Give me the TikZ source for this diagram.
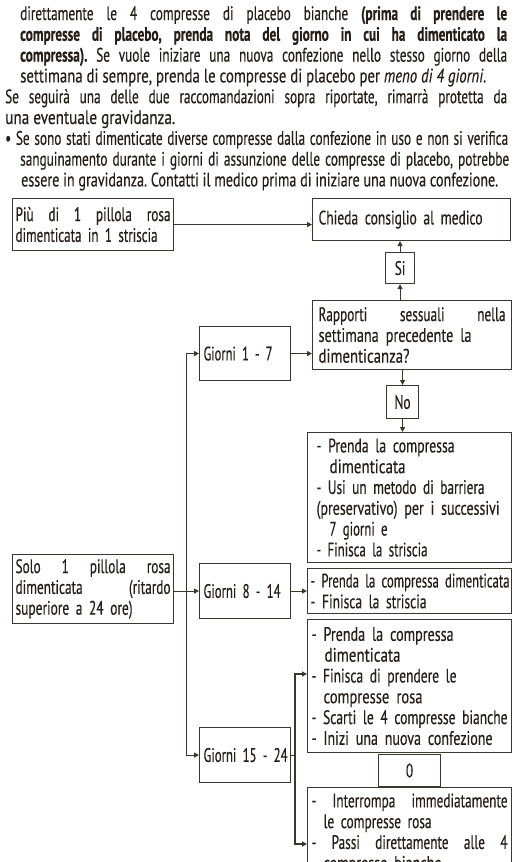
\documentclass[tikz,border=0pt]{standalone}
\usepackage{fontspec}
\setmainfont{PT Sans}[FakeStretch=0.68, FakeBold=0.3]
\usepackage{graphicx}
\usepackage{tikz}
\usetikzlibrary{arrows.meta, positioning, calc}

\definecolor{ink}{HTML}{261E17}
\definecolor{edge}{HTML}{3E352D}

\frenchspacing
\newcommand{\fs}{\fontsize{19.5}{20.8}\selectfont}
\newsavebox{\linebox}
\newcommand{\fitline}[2]{\sbox{\linebox}{#2}\ifdim\wd\linebox>#1\relax\resizebox{#1}{\height}{\usebox{\linebox}}\else\makebox[#1][s]{\spaceskip=0pt\xspaceskip=0pt #2}\fi}
\newcommand{\fitto}[2]{\resizebox{#1}{\height}{#2}}

\begin{document}
\begin{tikzpicture}[x=1pt, y=-1pt, every node/.style={font=\fs, text=ink}]

\tikzstyle{txt}=[anchor=base west, inner sep=0pt]
\tikzstyle{box}=[draw=edge, line width=1.1pt, anchor=north west, inner xsep=3pt, inner ysep=0pt, align=left]
\tikzstyle{arr}=[draw=edge, line width=1.1pt, -{Triangle[length=5pt, width=5pt]}]

\clip (0,0) rectangle (512,862);
\fill[white] (0,0) rectangle (512,862);

% text above the chart
\node (l1) [txt] at (20, 20) {\fitline{487pt}{direttamente le 4 compresse di placebo bianche \textbf{(prima di prendere le}}};
\node (l2) [txt] at (20, 40.8) {\fitline{487pt}{\textbf{compresse di placebo, prenda nota del giorno in cui ha dimenticato la}}};
\node (l3) [txt] at (20, 61.6) {\fitline{487pt}{\textbf{compressa).} Se vuole iniziare una nuova confezione nello stesso giorno della}};
\node (l4) [txt] at (20, 82.4) {\fitto{466pt}{settimana di sempre, prenda le compresse di placebo per \textit{meno di 4 giorni}.}};
\node (l5) [txt] at (5, 103.2) {\fitline{502pt}{Se seguirà una delle due raccomandazioni sopra riportate, rimarrà protetta da}};
\node (l6) [txt] at (5, 124) {\fitto{170pt}{una eventuale gravidanza.}};
\node (l7) [txt] at (5, 144.8) {\fitline{503pt}{• Se sono stati dimenticate diverse compresse dalla confezione in uso e non si verifica}};
\node (l8) [txt] at (20, 165.6) {\fitline{489pt}{sanguinamento durante i giorni di assunzione delle compresse di placebo, potrebbe}};
\node (l9) [txt] at (21, 186.4) {\fitto{477pt}{essere in gravidanza. Contatti il medico prima di iniziare una nuova confezione.}};

% chart
\node (more) [box, minimum width=161pt, minimum height=52pt, text width=155pt] at (12,198) {\fitline{155pt}{Più di 1 pillola rosa}\\\fitto{142pt}{dimenticata in 1 striscia}};
\node (advice) [box, minimum width=198pt, minimum height=42pt, inner xsep=6pt, text width=186pt] at (312,198) {\fitto{164pt}{Chieda consiglio al medico}};
\node (si) [box, minimum width=29pt, minimum height=31pt, align=center] at (385,252) {Si};
\node (sex) [box, minimum width=199pt, minimum height=69pt, inner xsep=6pt, text width=187pt] at (312,300) {\fitline{187pt}{Rapporti sessuali nella}\\\fitto{153pt}{settimana precedente la}\\\fitto{91pt}{dimenticanza?}};
\node (no) [box, minimum width=32pt, minimum height=33pt, align=center] at (386,385) {No};
\node (g1) [box, minimum width=91pt, minimum height=54pt, inner xsep=4pt, text width=83pt] at (199,326) {\fitto{69pt}{Giorni 1 - 7}};
\node (act1) [box, minimum width=204pt, minimum height=130pt, inner xsep=9pt, text width=186pt] at (307,432) {\fitto{138pt}{- Prenda la compressa}\\\hspace*{13pt}\fitto{76pt}{dimenticata}\\\fitto{168pt}{- Usi un metodo di barriera}\\\fitto{183pt}{(preservativo) per i successivi}\\\hspace*{13pt}\fitto{58pt}{7 giorni e}\\\fitto{111pt}{- Finisca la striscia}};

\node (solo) [box, minimum width=161pt, minimum height=69pt, text width=155pt] at (12,554) {\fitline{155pt}{Solo 1 pillola rosa}\\\fitline{155pt}{dimenticata (ritardo}\\\fitto{117pt}{superiore a 24 ore)}};
\node (g2) [box, minimum width=91pt, minimum height=55pt, inner xsep=4pt, text width=83pt] at (199,563) {\fitto{77pt}{Giorni 8 - 14}};
\node (act2) [box, minimum width=204pt, minimum height=45pt, text width=198pt] at (307,568) {\fitto{199pt}{- Prenda la compressa dimenticata}\\\fitto{116pt}{- Finisca la striscia}};
\node (act3) [box, minimum width=204pt, minimum height=133pt, inner xsep=4pt, text width=196pt] at (307,619) {\fitto{142pt}{- Prenda la compressa}\\\hspace*{13pt}\fitto{76pt}{dimenticata}\\\fitto{145pt}{- Finisca di prendere le}\\\hspace*{12pt}\fitto{99pt}{compresse rosa}\\\fitto{196pt}{- Scarti le 4 compresse bianche}\\\fitto{181pt}{- Inizi una nuova confezione}};
\node (g3) [box, minimum width=91pt, minimum height=55pt, inner xsep=4pt, text width=83pt] at (199,727) {\fitto{84pt}{Giorni 15 - 24}};
\node (zero) [box, minimum width=62pt, minimum height=32pt, align=center] at (378,754) {0};
\node (act4) [box, minimum width=204pt, minimum height=92pt, inner xsep=4pt, text width=196pt] at (307,787) {\fitline{196pt}{- Interrompa immediatamente}\\\hspace*{12pt}\fitto{108pt}{le compresse rosa}\\\fitline{196pt}{- Passi direttamente alle 4}\\\hspace*{12pt}\fitto{118pt}{compresse bianche}};

\coordinate (trunk) at (186.5, 590);
\coordinate (fork) at (295, 757);
\coordinate (in3) at (307, 674);
\coordinate (in4) at (307, 844);

\draw [arr] (more.east) -- (more.east -| advice.west);
\draw [arr] (si.north) -- (si.north |- advice.south);
\draw [arr] (sex.north -| si) -- (si.south);
\draw [arr] (sex.south -| no) -- (no.north);
\draw [arr] (no.south) -- (no.south |- act1.north);
\draw [arr] (g1.east) -- (g1.east -| sex.west);

\draw [arr] (trunk |- g3.west) |- (g1.west);
\draw [arr] (trunk |- g1.west) |- (g3.west);
\draw [arr] (g2.west -| solo.east) -- (g2.west);
\draw [arr] (g2.east) -- (g2.east -| act2.west);

\draw [draw=edge, line width=1.1pt] (g3.east) -- (fork |- g3.east);
\draw [arr] (fork |- g3.east) |- (in3);
\draw [arr] (fork |- g3.east) |- (in4);
\end{tikzpicture}
\end{document}
